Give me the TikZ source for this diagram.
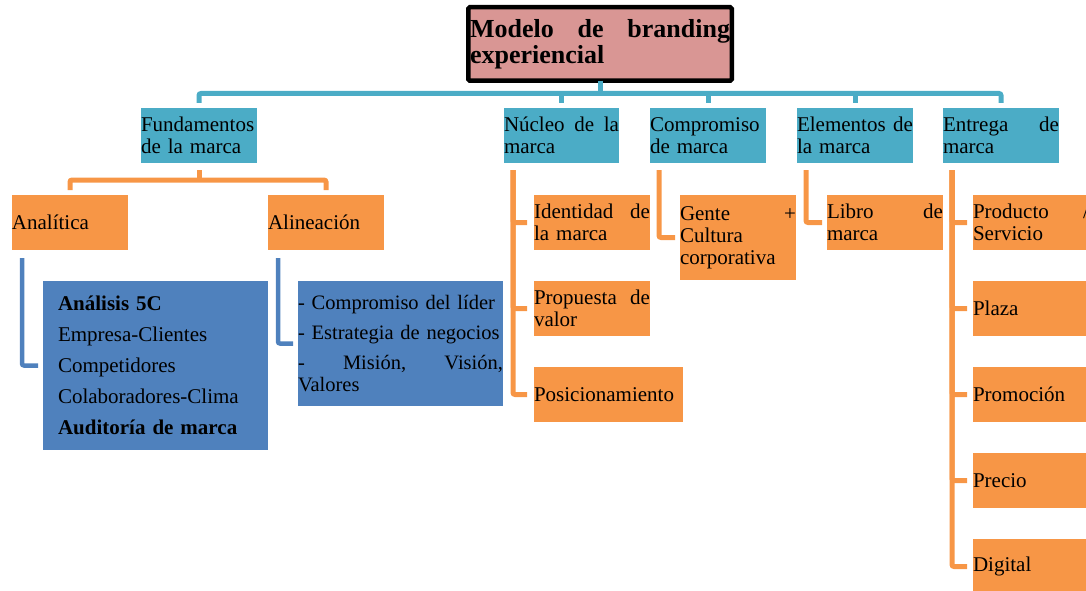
\documentclass[tikz,border=0pt]{standalone}
\usepackage{fontspec}
\setmainfont{Liberation Serif}
\definecolor{tealc}{HTML}{4BACC6}
\definecolor{orangec}{HTML}{F79646}
\definecolor{bluec}{HTML}{4F81BD}
\definecolor{pinkc}{HTML}{D99694}
\begin{document}
\begin{tikzpicture}[x=1pt,y=-1pt,
  basebox/.style={rectangle, inner sep=0pt, outer sep=0pt, anchor=north west, align=left,
    font=\fontsize{21}{22}\selectfont},
  tbox/.style={basebox, fill=tealc, minimum width=116pt, minimum height=55pt, text width=116pt},
  obox/.style={basebox, fill=orangec, minimum width=116pt, minimum height=55pt, text width=116pt},
  bbox/.style={basebox, fill=bluec},
  titlebox/.style={rectangle, inner sep=0pt, outer sep=0pt, anchor=north west, align=left,
    draw=black, line width=4.5pt, fill=pinkc, rounded corners=1.5pt,
    minimum width=263.5pt, minimum height=73.5pt, text width=260pt,
    font=\bfseries\fontsize{26}{26}\selectfont},
  conn/.style={line width=5pt, rounded corners=2pt},
  tconn/.style={conn, draw=tealc},
  oconn/.style={conn, draw=orangec},
  bconn/.style={conn, line width=4.5pt, draw=bluec}]
\useasboundingbox (0,0) rectangle (1086,591);
\clip (0,0) rectangle (1086,591);

% title
\node[titlebox] (title) at (468.25,7.25) {Modelo\hfill de\hfill branding\\experiencial};

% level 1
\node[tbox] (fund) at (141,108) {Fundamentos\\de la marca};
\node[tbox, minimum width=115pt, text width=115pt] (nuc) at (504,108) {Núcleo\hfill de\hfill la\\marca};
\node[tbox] (comp) at (650,108) {Compromiso\\de marca};
\node[tbox] (elem) at (797,108) {Elementos\hfill de\\la marca};
\node[tbox] (entr) at (943,108) {Entrega\hfill de\\marca};

% fundamentos children
\node[obox] (anal) at (12,195) {Analítica};
\node[obox] (alin) at (268,195) {Alineación};
\node[bbox, minimum width=225pt, minimum height=169pt, text width=195pt,
  font=\fontsize{21}{31}\selectfont] (ana5) at (43,281)
  {\textbf{Análisis 5C}\\Empresa-Clientes\\Competidores\\Colaboradores-Clima\\\textbf{Auditoría de marca}};
\node[bbox, minimum width=205pt, minimum height=125pt, text width=205pt,
  font=\fontsize{20.5}{22}\selectfont] (alin2) at (298,281)
  {\mbox{- Compromiso del líder}\\[8pt]\mbox{- Estrategia de negocios}\\[8pt]-\hfill Misión,\hfill Visión,\\Valores};

% nucleo children
\node[obox] (ident) at (534,195) {Identidad\hfill de\\la marca};
\node[obox] (prop) at (534,281) {Propuesta\hfill de\\valor};
\node[obox, minimum width=149pt, text width=149pt] (pos) at (534,367) {Posicionamiento};

% compromiso child
\node[obox, minimum height=85pt] (gente) at (680,195) {Gente\hfill +\\Cultura\\corporativa};

% elementos child
\node[obox] (libro) at (827,195) {Libro\hfill de\\marca};

% entrega children
\node[obox] (prod) at (973,195) {Producto\hfill /\\Servicio};
\node[obox] (plaza) at (973,281) {Plaza};
\node[obox] (promo) at (973,367) {Promoción};
\node[obox] (precio) at (973,453) {Precio};
\node[obox] (digital) at (973,539) {Digital};

% teal connectors
\coordinate (bus) at ([yshift=-12.75pt]title.south);
\draw[tconn] (title.south) -- (bus);
\draw[tconn] ([yshift=5pt]fund.north) |- (bus) -| ([yshift=5pt]entr.north);
\foreach \n in {nuc,comp,elem}
  \draw[tconn] ([yshift=5pt]\n.north) -- (\n.north |- bus);

% fundamentos connectors
\coordinate (fbus) at ([yshift=-17pt]fund.south);
\draw[oconn] ([yshift=-7pt]fund.south) -- (fbus);
\draw[oconn] ([yshift=5pt]anal.north) |- (fbus) -| ([yshift=5pt]alin.north);

% blue connectors
\draw[bconn] ([xshift=10pt,yshift=-8pt]anal.south west) |- ([xshift=-5pt]ana5.west);
\draw[bconn] ([xshift=10pt,yshift=-8pt]alin.south west) |- ([xshift=-5pt]alin2.west);

% orange vertical connectors
\foreach \c in {ident,prop,pos}
  \draw[oconn] ([xshift=9pt,yshift=-7pt]nuc.south west) |- ([xshift=-7pt]\c.west);
\draw[oconn] ([xshift=9pt,yshift=-7pt]comp.south west) |- ([xshift=-5pt]gente.west);
\draw[oconn] ([xshift=9pt,yshift=-7pt]elem.south west) |- ([xshift=-5pt]libro.west);
\foreach \c in {prod,plaza,promo,precio,digital}
  \draw[oconn] ([xshift=9pt,yshift=-7pt]entr.south west) |- ([xshift=-6pt]\c.west);
\end{tikzpicture}
\end{document}
